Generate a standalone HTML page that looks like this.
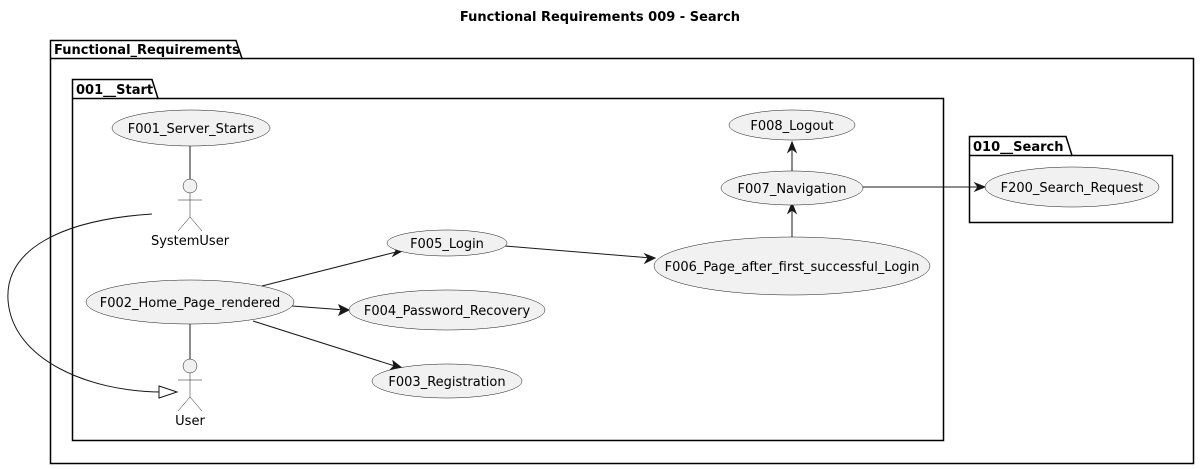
<!DOCTYPE html>
<html><head><meta charset="utf-8"><style>
html,body{margin:0;padding:0;background:#fff;}
svg{display:block;}
text{font-family:"DejaVu Sans","Liberation Sans",sans-serif;font-size:13px;fill:#000;}
.b{font-weight:bold;}
.e{fill:#f1f1f1;stroke:#181818;stroke-width:0.5;}
.l{stroke:#181818;stroke-width:1;fill:none;}
.a{fill:#181818;stroke:#181818;}
.act{fill:none;stroke:#181818;stroke-width:0.5;}
</style></head><body>
<svg width="1200" height="469" viewBox="0 0 1200 469" xmlns="http://www.w3.org/2000/svg">
<text x="600" y="21" text-anchor="middle" class="b" style="font-size:13px">Functional Requirements 009 - Search</text>

<!-- outer package -->
<path d="M50.5,40.5 L236,40.5 L242,58.5 L1193.5,58.5 L1193.5,463.5 L50.5,463.5 Z" fill="none" stroke="#000" stroke-width="1.5"/>
<line x1="50.5" y1="58.5" x2="242" y2="58.5" stroke="#000" stroke-width="1.5"/>
<text x="54" y="54" class="b">Functional_Requirements</text>

<!-- 001 package -->
<path d="M72.5,79.5 L152,79.5 L158,98.5 L943.5,98.5 L943.5,440.5 L72.5,440.5 Z" fill="none" stroke="#000" stroke-width="1.5"/>
<line x1="72.5" y1="98.5" x2="158" y2="98.5" stroke="#000" stroke-width="1.5"/>
<text x="76" y="94" class="b">001__Start</text>

<!-- 010 package -->
<path d="M969.5,136.5 L1066,136.5 L1072,155.5 L1172.5,155.5 L1172.5,222.5 L969.5,222.5 Z" fill="none" stroke="#000" stroke-width="1.5"/>
<line x1="969.5" y1="155.5" x2="1072" y2="155.5" stroke="#000" stroke-width="1.5"/>
<text x="973" y="151" class="b">010__Search</text>

<!-- connectors -->
<line class="l" x1="190" y1="146" x2="190" y2="179"/>
<line class="l" x1="190" y1="323" x2="190" y2="359"/>
<line class="l" x1="262" y1="286" x2="400" y2="251"/>
<polygon class="a" points="404,250 394,247 396,251 393,256"/>
<line class="l" x1="292" y1="306" x2="345" y2="310"/>
<polygon class="a" points="349,310 339,305 341,310 339,315"/>
<line class="l" x1="253" y1="321" x2="398" y2="367"/>
<polygon class="a" points="402,368 393,361 394,366 390,370"/>
<line class="l" x1="505" y1="246" x2="651" y2="258"/>
<polygon class="a" points="655,258 645,254 648,258 645,263"/>
<line class="l" x1="792" y1="237" x2="792" y2="207"/>
<polygon class="a" points="792,203 788,213 792,210 796,213"/>
<line class="l" x1="792" y1="171" x2="792" y2="146"/>
<polygon class="a" points="792,142 788,152 792,149 796,152"/>
<line class="l" x1="862" y1="187" x2="981" y2="187"/>
<polygon class="a" points="985,187 975,183 978,187 975,191"/>

<!-- generalization -->
<path class="l" d="M152,214 C60,220 5,250 8,300 C12,360 90,392 162,392" />
<polygon points="177,392 159,386 159,398" fill="#fff" stroke="#181818" stroke-width="1"/>

<!-- use cases -->
<ellipse class="e" cx="191" cy="128" rx="79" ry="18"/>
<text x="191" y="133" text-anchor="middle">F001_Server_Starts</text>
<ellipse class="e" cx="190" cy="302" rx="104" ry="22"/>
<text x="190" y="307" text-anchor="middle">F002_Home_Page_rendered</text>
<ellipse class="e" cx="447" cy="243" rx="60" ry="13"/>
<text x="447" y="248" text-anchor="middle">F005_Login</text>
<ellipse class="e" cx="447" cy="310" rx="98" ry="20"/>
<text x="447" y="315" text-anchor="middle">F004_Password_Recovery</text>
<ellipse class="e" cx="447" cy="381" rx="75" ry="17"/>
<text x="447" y="386" text-anchor="middle">F003_Registration</text>
<ellipse class="e" cx="792" cy="266" rx="138" ry="29"/>
<text x="792" y="271" text-anchor="middle">F006_Page_after_first_successful_Login</text>
<ellipse class="e" cx="792" cy="188" rx="71" ry="17"/>
<text x="792" y="193" text-anchor="middle">F007_Navigation</text>
<ellipse class="e" cx="792" cy="125" rx="63" ry="15"/>
<text x="792" y="130" text-anchor="middle">F008_Logout</text>
<ellipse class="e" cx="1072" cy="187" rx="87" ry="20"/>
<text x="1072" y="192" text-anchor="middle">F200_Search_Request</text>

<!-- actors -->
<g>
<circle cx="190" cy="186" r="7" fill="#f1f1f1" stroke="#181818" stroke-width="0.5"/>
<path class="act" d="M190,193 V217 M178,200 H202 M178,231 L190,217 L202,231"/>
<text x="190" y="245" text-anchor="middle">SystemUser</text>
</g>
<g>
<circle cx="190" cy="366" r="7" fill="#f1f1f1" stroke="#181818" stroke-width="0.5"/>
<path class="act" d="M190,373 V397 M178,380 H202 M178,411 L190,397 L202,411"/>
<text x="190" y="425" text-anchor="middle">User</text>
</g>
</svg>
</body></html>
